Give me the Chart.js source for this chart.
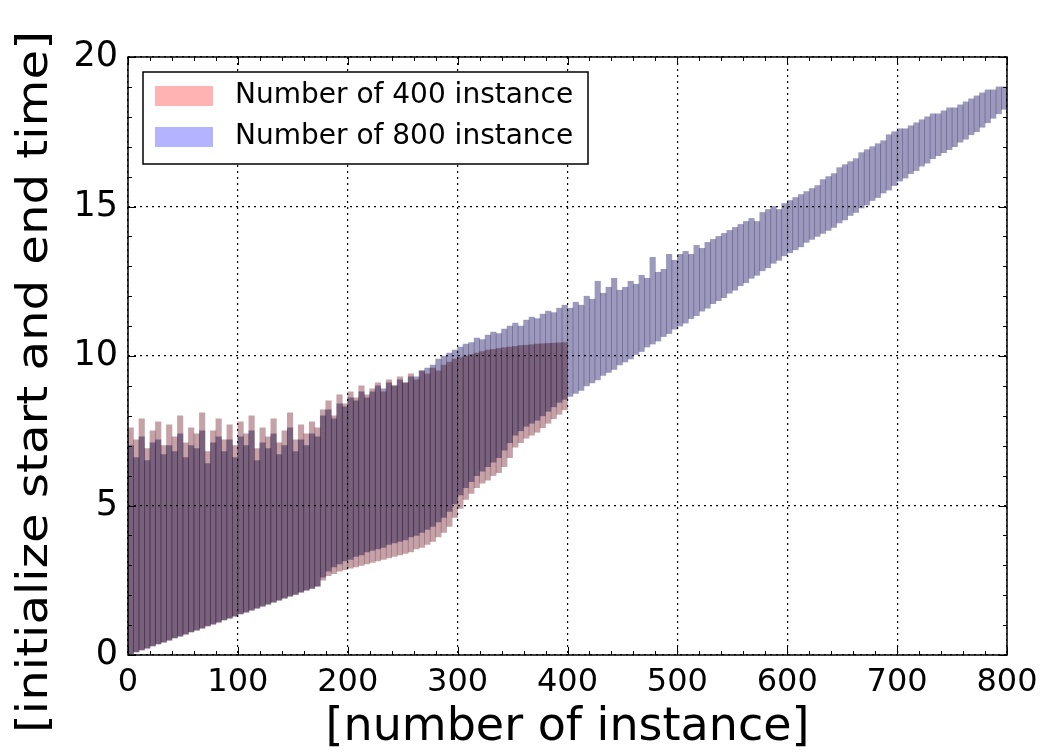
<!DOCTYPE html>
<html>
<head>
<meta charset="utf-8">
<script src="https://cdn.jsdelivr.net/npm/chart.js@4.4.1/dist/chart.umd.min.js"></script>
<style>
  html, body { margin: 0; padding: 0; background: #fff; }
  #wrap { width: 1054px; height: 756px; }
</style>
</head>
<body>
<div id="wrap"><canvas id="bar-chart" width="1054" height="756"></canvas></div>
<script>
// each bar covers 5 instances (bin), start/end time per bin
var binStep = 5;

// run with 400 instances (bins 0..395)
var redStart = [
  0.03, 0.1, 0.17, 0.23, 0.3, 0.37, 0.43, 0.5, 0.57, 0.63,
  0.7, 0.77, 0.83, 0.9, 0.97, 1.03, 1.1, 1.17, 1.23, 1.3,
  1.37, 1.43, 1.5, 1.57, 1.63, 1.7, 1.77, 1.83, 1.9, 1.97,
  2.03, 2.1, 2.17, 2.23, 2.3,
  2.5, 2.65, 2.72, 2.8, 2.85, 2.9, 2.95, 3.0, 3.05, 3.1,
  3.15, 3.2, 3.25, 3.3, 3.35, 3.4, 3.45, 3.55, 3.6, 3.7,
  3.8, 3.95, 4.1, 4.3, 4.6, 4.9, 5.2, 5.4, 5.6, 5.75,
  5.85, 6.0, 6.1, 6.3, 6.6, 6.95, 7.1, 7.25, 7.35, 7.45,
  7.6, 7.75, 7.9, 8.05, 8.2
];
var redEnd = [
  7.6, 7.2, 7.9, 6.9, 7.5, 7.8, 7.0, 7.7, 7.3, 8.0,
  7.1, 7.6, 7.4, 8.1, 6.8, 7.5, 7.9, 7.2, 7.7, 7.0,
  7.8, 7.4, 8.0, 6.9, 7.6, 7.3, 7.9, 7.1, 7.5, 8.1,
  7.2, 7.7, 7.4, 7.8, 7.6,
  8.2, 8.5, 8.0, 8.7, 8.4, 8.8, 8.6, 9.0, 8.7, 8.9,
  9.1, 8.8, 9.2, 9.0, 9.3, 9.1, 9.4, 9.2, 9.5, 9.4,
  9.6, 9.5, 9.7, 9.8, 9.9, 9.95, 10.0, 10.05, 10.1, 10.15,
  10.2, 10.22, 10.25, 10.28, 10.3, 10.32, 10.35, 10.36, 10.38, 10.4,
  10.41, 10.42, 10.43, 10.44, 10.45
];

// run with 800 instances (bins 0..795)
var blueStart = [
  0.03, 0.1, 0.17, 0.23, 0.3, 0.37, 0.43, 0.5, 0.57, 0.63,
  0.7, 0.77, 0.83, 0.9, 0.97, 1.03, 1.1, 1.17, 1.23, 1.3,
  1.37, 1.43, 1.5, 1.57, 1.63, 1.7, 1.77, 1.83, 1.9, 1.97,
  2.03, 2.1, 2.17, 2.23, 2.3,
  2.6, 2.8, 2.95, 3.05, 3.15, 3.2, 3.3, 3.35, 3.45, 3.5,
  3.55, 3.6, 3.7, 3.75, 3.8, 3.85, 3.95, 4.0, 4.1, 4.2,
  4.3, 4.45, 4.6, 4.8, 5.05, 5.35, 5.6, 5.8, 6.0, 6.15,
  6.3, 6.45, 6.6, 6.85, 7.1, 7.35, 7.5, 7.65, 7.75, 7.85,
  8.0, 8.15, 8.3, 8.45, 8.55,
  8.65, 8.75, 8.85, 9.0, 9.1, 9.2, 9.35, 9.45, 9.55, 9.7,
  9.8, 9.9, 10.05, 10.15, 10.3, 10.4, 10.5, 10.65, 10.75, 10.9,
  11.0, 11.1, 11.25, 11.35, 11.5, 11.6, 11.75, 11.85, 11.95, 12.1,
  12.2, 12.35, 12.45, 12.6, 12.7, 12.85, 12.95, 13.1, 13.2, 13.35,
  13.45, 13.55, 13.65, 13.8, 13.9, 14.0, 14.1, 14.2, 14.3, 14.45,
  14.55, 14.7, 14.8, 14.95, 15.05, 15.2, 15.3, 15.45, 15.55, 15.7,
  15.85, 15.95, 16.1, 16.2, 16.35, 16.45, 16.6, 16.7, 16.8, 16.9,
  17.0, 17.15, 17.25, 17.4, 17.5, 17.65, 17.8, 17.95, 18.1, 18.25
];
var blueEnd = [
  7.0, 6.6, 7.3, 6.5, 7.1, 7.2, 6.7, 7.0, 6.8, 7.4,
  6.6, 7.0, 6.9, 7.5, 6.4, 7.1, 7.3, 6.8, 7.2, 6.6,
  7.3, 7.0, 7.5, 6.5, 7.1, 6.9, 7.4, 6.7, 7.0, 7.6,
  6.8, 7.2, 7.0, 7.4, 7.3,
  8.0, 8.2, 7.9, 8.4, 8.3, 8.6, 8.5, 8.8, 8.6, 8.8,
  9.0, 8.9, 9.1, 9.0, 9.2, 9.1, 9.3, 9.3, 9.5, 9.6,
  9.7, 9.9, 10.0, 10.1, 10.2,
  10.3, 10.4, 10.45, 10.6, 10.55, 10.7, 10.8, 10.75, 10.9, 11.0,
  11.1, 11.0, 11.2, 11.3, 11.25, 11.4, 11.5, 11.45, 11.6, 11.7,
  11.6, 11.8, 11.7, 12.0, 11.9, 12.5, 12.1, 12.3, 12.6, 12.2,
  12.3, 12.5, 12.4, 12.7, 12.6, 13.3, 12.8, 12.9, 13.4, 13.2,
  13.4, 13.5, 13.4, 13.7, 13.6, 13.8, 13.9, 14.0, 14.1, 14.2,
  14.3, 14.4, 14.5, 14.6, 14.5, 14.8, 14.9, 15.0, 14.9, 15.1,
  15.2, 15.3, 15.4, 15.5, 15.6, 15.7, 15.9, 16.0, 16.1, 16.3,
  16.4, 16.5, 16.6, 16.8, 16.9, 17.0, 17.1, 17.2, 17.4, 17.5,
  17.6, 17.6, 17.7, 17.8, 17.9, 18.0, 18.1, 18.1, 18.2, 18.3,
  18.3, 18.4, 18.5, 18.6, 18.7, 18.8, 18.9, 18.9, 19.0, 19.0
];

var seriesNames = ["Number of 400 instance", "Number of 800 instance"];
var xTickValues = [0, 100, 200, 300, 400, 500, 600, 700, 800];
var yTickValues = [0, 5, 10, 15, 20];
var xMinorStep = 20;
var yMinorStep = 1;
var yTitle = '[initialize start and end time]';

function toBars(starts, ends) {
    var out = [];
    for (var i = 0; i < starts.length; i++) {
        out.push({ x: i * binStep + binStep / 2, y: [starts[i], ends[i]] });
    }
    return out;
}

Chart.defaults.font.family = "'DejaVu Sans', sans-serif";
Chart.defaults.color = '#000';

var legendColors = ['#ffb3b3', '#b3b3ff'];

// bars overlap: multiply them so the overlap turns purple like the original
var blendPlugin = {
    id: 'blend',
    beforeDatasetsDraw: function (chart) {
        chart.ctx.save();
        chart.ctx.globalCompositeOperation = 'multiply';
    },
    afterDatasetsDraw: function (chart) {
        chart.ctx.restore();
    }
};

var framePlugin = {
    id: 'frame',
    afterDraw: function (chart) {
        var ctx = chart.ctx;
        var a = chart.chartArea;
        var xs = chart.scales.x, ys = chart.scales.y;
        ctx.save();
        ctx.strokeStyle = '#000';
        ctx.lineWidth = 1;
        ctx.beginPath();
        // minor + major ticks inside on all four sides
        for (var v = 0; v <= 800; v += xMinorStep) {
            var px = Math.round(xs.getPixelForValue(v)) + 0.5;
            var len = xTickValues.indexOf(v) >= 0 ? 8 : 4;
            ctx.moveTo(px, a.bottom); ctx.lineTo(px, a.bottom - len);
            ctx.moveTo(px, a.top); ctx.lineTo(px, a.top + len);
        }
        for (var w = 0; w <= 20; w += yMinorStep) {
            var py = Math.round(ys.getPixelForValue(w)) + 0.5;
            var l2 = yTickValues.indexOf(w) >= 0 ? 8 : 4;
            ctx.moveTo(a.left, py); ctx.lineTo(a.left + l2, py);
            ctx.moveTo(a.right, py); ctx.lineTo(a.right - l2, py);
        }
        ctx.stroke();
        ctx.lineWidth = 1.5;
        ctx.strokeRect(a.left, a.top, a.right - a.left, a.bottom - a.top);

        // legend box
        var bx = a.left + 15, by = a.top + 15, bw = 445, bh = 92;
        ctx.fillStyle = '#fff';
        ctx.fillRect(bx, by, bw, bh);
        ctx.lineWidth = 1.5;
        ctx.strokeStyle = '#000';
        ctx.strokeRect(bx, by, bw, bh);
        ctx.font = "28px 'DejaVu Sans'";
        ctx.textBaseline = 'middle';
        for (var k = 0; k < seriesNames.length; k++) {
            var cy = by + 24 + k * 41;
            ctx.fillStyle = legendColors[k];
            ctx.fillRect(bx + 12, cy - 10, 58, 20);
            ctx.fillStyle = '#000';
            ctx.fillText(seriesNames[k], bx + 92, cy);
        }

        // y axis title, a little stretched along its baseline like the original
        ctx.save();
        ctx.translate(36, 382);
        ctx.rotate(-Math.PI / 2);
        ctx.scale(1.12, 1);
        ctx.font = "43px 'DejaVu Sans'";
        ctx.textAlign = 'center';
        ctx.textBaseline = 'middle';
        ctx.fillStyle = '#000';
        ctx.fillText(yTitle, 0, 0);
        ctx.restore();

        ctx.restore();
    }
};

var ctx = document.getElementById("bar-chart");

var BarChart = new Chart(ctx, {
    type: 'bar',
    data: {
        datasets: [{
            label: seriesNames[0],
            data: toBars(redStart, redEnd),
            backgroundColor: '#c5a2a8',
            grouped: false,
            barPercentage: 1,
            categoryPercentage: 1
        }, {
            label: seriesNames[1],
            data: toBars(blueStart, blueEnd),
            backgroundColor: '#9c99bd',
            grouped: false,
            barPercentage: 1,
            categoryPercentage: 1
        }]
    },
    options: {
        responsive: false,
        animation: false,
        layout: { padding: { left: 0, right: 47, top: 57, bottom: 0 } },
        plugins: {
            legend: { display: false },
            tooltip: { enabled: false }
        },
        scales: {
            x: {
                type: 'linear',
                min: 0,
                max: 800,
                offset: false,
                afterBuildTicks: function (s) {
                    s.ticks = xTickValues.map(function (v) { return { value: v }; });
                },
                afterFit: function (s) { s.height = 101; },
                ticks: { font: { size: 32 }, padding: 8, maxRotation: 0 },
                grid: { color: '#000', lineWidth: 1.2, drawTicks: false, offset: false },
                border: { display: false, dash: [2, 4] },
                title: {
                    display: true,
                    text: '[number of instance]',
                    font: { size: 46 },
                    padding: { top: 14, bottom: 0 }
                }
            },
            y: {
                min: 0,
                max: 20,
                afterBuildTicks: function (s) {
                    s.ticks = yTickValues.map(function (v) { return { value: v }; });
                },
                afterFit: function (s) { s.width = 128; },
                ticks: { font: { size: 35 }, padding: 10 },
                grid: { color: '#000', lineWidth: 1.2, drawTicks: false },
                border: { display: false, dash: [2, 4] },
                title: { display: false }
            }
        }
    },
    plugins: [blendPlugin, framePlugin]
});
</script>
</body>
</html>
